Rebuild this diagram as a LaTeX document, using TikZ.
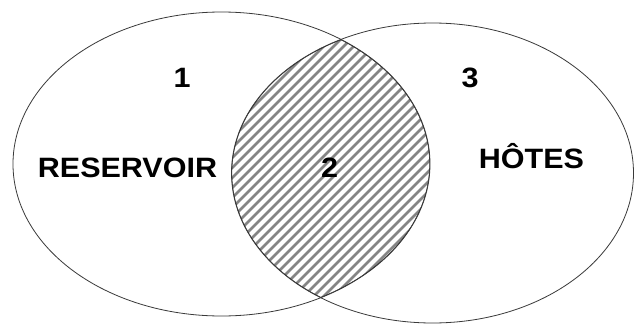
\documentclass[tikz,border=0pt]{standalone}
\usepackage{fontspec}
\setmainfont{Liberation Sans}
\definecolor{linec}{HTML}{3A3A3A}
\definecolor{hatchc}{HTML}{858585}
\tikzset{
  setline/.style={draw=linec, line width=0.8pt},
  lensline/.style={draw=linec!90!black, line width=1.3pt},
  hatchline/.style={draw=hatchc, line width=2.8pt},
  lbl/.style={anchor=base, inner sep=0pt, font=\fontsize{28}{30}\selectfont\bfseries}
}
\begin{document}
\begin{tikzpicture}[x=1pt,y=-1pt]
\useasboundingbox (0,0) rectangle (635,324);
\fill[white] (0,0) rectangle (635,324);
% hatched intersection
\begin{scope}
  \clip (221.5,164) ellipse [x radius=208.5pt, y radius=152pt];
  \clip (432.5,173) ellipse [x radius=201pt, y radius=150pt];
  \foreach \k in {-200,-190,...,480} {
    \draw[hatchline] (\k,340) -- ++(360,-360);
  }
  \draw[lensline] (221.5,164) ellipse [x radius=208.5pt, y radius=152pt];
  \draw[lensline] (432.5,173) ellipse [x radius=201pt, y radius=150pt];
\end{scope}
% the two sets
\draw[setline] (221.5,164) ellipse [x radius=208.5pt, y radius=152pt];
\draw[setline] (432.5,173) ellipse [x radius=201pt, y radius=150pt];
% labels
\node[lbl] (one) at (182,87) {\scalebox{1.09}[1]{1}};
\node[lbl] (res) at (127.5,177) {\scalebox{1.09}[1]{RESERVOIR}};
\node[lbl] (two) at (329.5,177) {\scalebox{1.09}[1]{2}};
\node[lbl] (three) at (470,87) {\scalebox{1.09}[1]{3}};
\node[lbl] (hot) at (531.5,168) {\scalebox{1.09}[1]{HÔTES}};
\end{tikzpicture}
\end{document}
